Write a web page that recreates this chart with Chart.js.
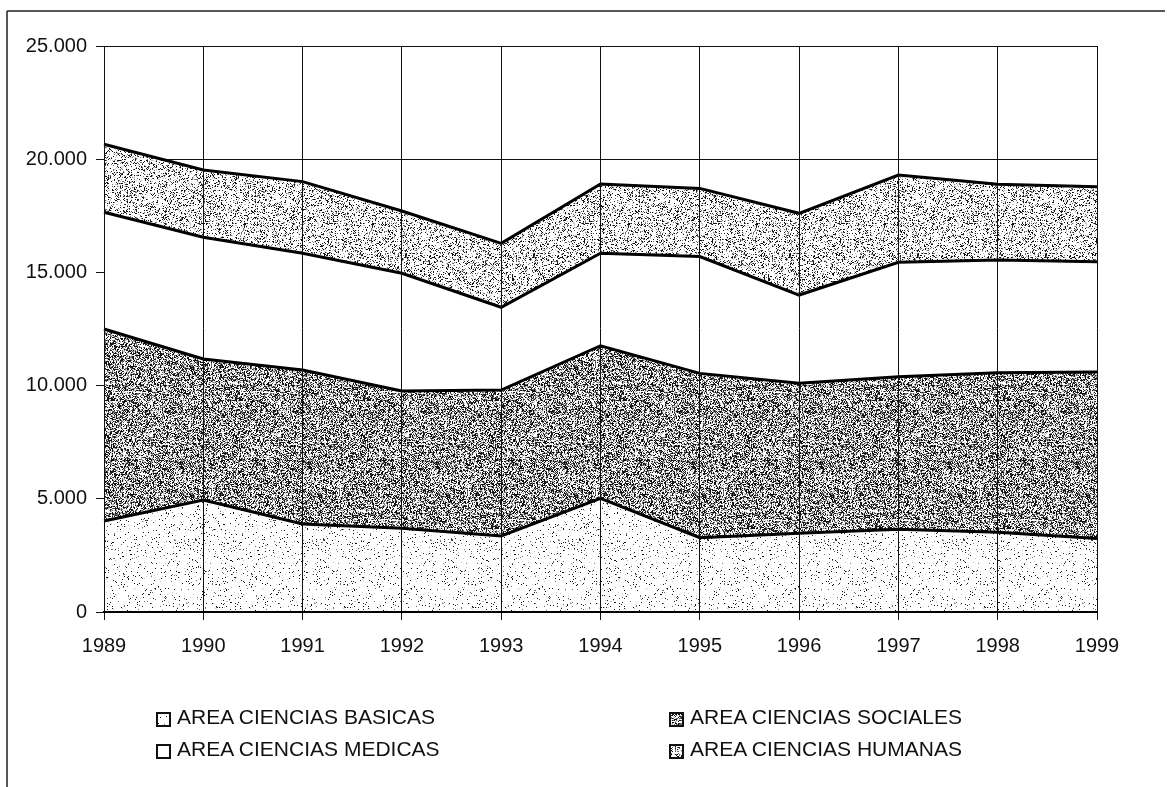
<!DOCTYPE html>
<html>
<head>
<meta charset="utf-8">
<script src="https://cdn.jsdelivr.net/npm/chart.js@4/dist/chart.umd.min.js"></script>
<style>
html,body{margin:0;padding:0;background:#fff;}
#wrap{position:relative;width:1167px;height:787px;overflow:hidden;background:#fff;}
#c{position:absolute;left:0;top:0;}
.lg{position:absolute;font-family:"Liberation Sans",Arial,sans-serif;font-size:21px;color:#111;line-height:24px;white-space:nowrap;}
.lg .box{position:absolute;left:0;top:5px;width:11px;height:11px;border:2px solid #111;}
.lg .txt{position:absolute;left:21px;top:-2px;}
</style>
</head>
<body>
<div id="wrap">
<canvas id="c" width="1167" height="787"></canvas>
<div class="lg" style="left:156px;top:707px;"><span class="box" id="b0"></span><span class="txt">AREA CIENCIAS BASICAS</span></div>
<div class="lg" style="left:669px;top:707px;"><span class="box" id="b1"></span><span class="txt">AREA CIENCIAS SOCIALES</span></div>
<div class="lg" style="left:156px;top:739px;"><span class="box" id="b2"></span><span class="txt">AREA CIENCIAS MEDICAS</span></div>
<div class="lg" style="left:669px;top:739px;"><span class="box" id="b3"></span><span class="txt">AREA CIENCIAS HUMANAS</span></div>
</div>
<script>
// ---- data ----
const years = ['1989','1990','1991','1992','1993','1994','1995','1996','1997','1998','1999'];
const basicas  = [4020, 4950, 3890, 3700, 3360, 5020, 3280, 3480, 3650, 3520, 3250];
const sociales = [8480, 6225, 6800, 6060, 6445, 6740, 7260, 6620, 6745, 7050, 7350];
const medicas  = [5155, 5375, 5155, 5200, 3655, 4090, 5160, 3900, 5050, 4980, 4870];
const humanas  = [3005, 2975, 3165, 2750, 2825, 3055, 3010, 3610, 3855, 3345, 3315];
const seriesNames = ['AREA CIENCIAS BASICAS','AREA CIENCIAS SOCIALES','AREA CIENCIAS MEDICAS','AREA CIENCIAS HUMANAS'];
const yTicks = [0, 5000, 10000, 15000, 20000, 25000];

// ---- stipple textures (visual texture only) ----
function stipple(density, seed, size){
  const c = document.createElement('canvas');
  c.width = c.height = size;
  const g = c.getContext('2d');
  const img = g.createImageData(size, size);
  let s = seed >>> 0;
  function rnd(){ s = (Math.imul(s, 1103515245) + 12345) >>> 0; return s / 4294967296; }
  for (let i = 0; i < size*size; i++){
    let v = 255;
    const r = rnd();
    if (r < density) v = (rnd() < 0.65) ? 20 : 110;
    else if (r < density*1.3) v = 200;
    img.data[i*4] = img.data[i*4+1] = img.data[i*4+2] = v;
    img.data[i*4+3] = 255;
  }
  g.putImageData(img, 0, 0);
  return c;
}
const ctx = document.getElementById('c').getContext('2d');
const texLight = stipple(0.05, 11, 128);
const texDark  = stipple(0.48, 23, 128);
const texMed   = stipple(0.22, 37, 128);
const patLight = ctx.createPattern(texLight, 'repeat');
const patDark  = ctx.createPattern(texDark, 'repeat');
const patMed   = ctx.createPattern(texMed, 'repeat');
document.getElementById('b0').style.background = 'url(' + texLight.toDataURL() + ')';
document.getElementById('b1').style.background = 'url(' + texDark.toDataURL() + ')';
document.getElementById('b2').style.background = '#fff';
document.getElementById('b3').style.background = 'url(' + texMed.toDataURL() + ')';

function fmt(v){ return String(v).replace(/\B(?=(\d{3})+(?!\d))/g, '.'); }

const framePlugin = {
  id: 'frame',
  beforeDraw(chart){
    const c = chart.ctx;
    c.save();
    c.strokeStyle = '#222';
    c.lineWidth = 1.5;
    c.beginPath();
    c.moveTo(7, 11); c.lineTo(1165, 11);
    c.moveTo(7, 11); c.lineTo(7, 787);
    c.stroke();
    c.restore();
  }
};

const font = { family: '"Liberation Sans", Arial, sans-serif', size: 20 };

new Chart(ctx, {
  type: 'line',
  data: {
    labels: years,
    datasets: [
      { label: seriesNames[0], data: basicas,  backgroundColor: patLight, fill: 'origin' },
      { label: seriesNames[1], data: sociales, backgroundColor: patDark,  fill: '-1' },
      { label: seriesNames[2], data: medicas,  backgroundColor: '#ffffff', fill: '-1' },
      { label: seriesNames[3], data: humanas,  backgroundColor: patMed,   fill: '-1' }
    ].map(d => Object.assign(d, { borderColor: '#000', borderWidth: 3, pointRadius: 0, tension: 0 }))
  },
  options: {
    responsive: false,
    animation: false,
    devicePixelRatio: 1,
    layout: { padding: { top: 46, right: 70, left: 0, bottom: 0 } },
    plugins: { legend: { display: false }, tooltip: { enabled: false } },
    scales: {
      x: {
        offset: false,
        grid: { z: 1, color: '#111', lineWidth: 1, drawTicks: true, tickLength: 8, tickColor: '#111' },
        border: { z: 1, display: true, color: '#000', width: 2 },
        ticks: { color: '#111', font: font, padding: 14, maxRotation: 0, autoSkip: false },
        afterFit(scale){ scale.height = 175; }
      },
      y: {
        stacked: true,
        min: 0, max: 25000,
        afterBuildTicks(scale){ scale.ticks = yTicks.map(v => ({ value: v })); },
        grid: { color: '#111', lineWidth: 1, drawTicks: true, tickLength: 8, tickColor: '#111' },
        border: { display: true, color: '#000', width: 1 },
        ticks: { color: '#111', font: font, padding: 9, callback: v => fmt(v) },
        afterFit(scale){ scale.width = 104; }
      }
    }
  },
  plugins: [framePlugin]
});
</script>
</body>
</html>
